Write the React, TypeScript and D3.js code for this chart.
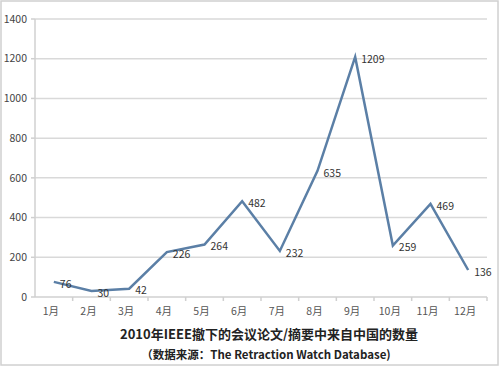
import React from "react";
import * as d3 from "d3";

const months = ["1月","2月","3月","4月","5月","6月","7月","8月","9月","10月","11月","12月"];
const counts = [76, 30, 42, 226, 264, 482, 232, 635, 1209, 259, 469, 136];
const yTicks = [0, 200, 400, 600, 800, 1000, 1200, 1400];
const titleLines = ["2010年IEEE撤下的会议论文/摘要中来自中国的数量", "（数据来源：The Retraction Watch Database)"];

export default function App() {
  const W = 500, H = 367;
  const left = 35, right = 487, top = 19, bottom = 297;
  const x = d3.scaleBand<string>().domain(months).range([left, right]);
  const y = d3.scaleLinear().domain([0, 1400]).range([bottom, top]);
  const line = d3.line<number>()
    .x((_, i) => (x(months[i]) as number) + x.bandwidth() / 2)
    .y((d) => y(d));
  const font = "'Noto Sans CJK SC', 'Open Sans', sans-serif";
  return (
    <svg width={W} height={H} style={{ position: "absolute", left: 0, top: 0, background: "#fff" }}>
      <rect x={1} y={1} width={W - 3} height={H - 3} fill="#fff" stroke="#d0d0d0" strokeWidth={1.5} />
      {yTicks.map((t) => (
        <g key={t}>
          {t > 0 && <line x1={left} x2={right} y1={y(t)} y2={y(t)} stroke="#d9d9d9" strokeWidth={1.5} />}
          <line x1={left - 4} x2={left} y1={y(t)} y2={y(t)} stroke="#cfcfcf" strokeWidth={1.5} />
          <text x={left - 8} y={y(t)} dy="0.35em" textAnchor="end" fontSize={10.5} fill="#444" fontFamily={font}>{t}</text>
        </g>
      ))}
      <line x1={left} x2={left} y1={top} y2={bottom} stroke="#d0d0d0" strokeWidth={1.5} />
      <line x1={left} x2={right} y1={bottom} y2={bottom} stroke="#d0d0d0" strokeWidth={1.5} />
      {months.map((m) => (
        <line key={"t" + m} x1={(x(m) as number) + x.bandwidth()} x2={(x(m) as number) + x.bandwidth()} y1={bottom} y2={bottom + 4} stroke="#d0d0d0" strokeWidth={1.5} />
      ))}
      {months.map((m) => (
        <text key={m} x={(x(m) as number) + x.bandwidth() / 2 - 3} y={bottom + 14} dy="0.35em" textAnchor="middle" fontSize={10.5} fill="#555" fontFamily={font}>{m}</text>
      ))}
      <path d={line(counts) || ""} fill="none" stroke="#5b7fa6" strokeWidth={2.5} strokeLinejoin="miter" />
      {counts.map((c, i) => (
        <text key={"l" + i} x={(x(months[i]) as number) + x.bandwidth() / 2 + 6} y={y(c) + 2} dy="0.35em" fontSize={10.5} fill="#333" fontFamily={font}>{c}</text>
      ))}
      <text x={269} y={339} textAnchor="middle" fontSize={13} fontWeight="bold" fill="#222" fontFamily={font}>{titleLines[0]}</text>
      <text x={266} y={359} textAnchor="middle" fontSize={11.5} fontWeight="bold" fill="#222" fontFamily={font}>{titleLines[1]}</text>
    </svg>
  );
}
